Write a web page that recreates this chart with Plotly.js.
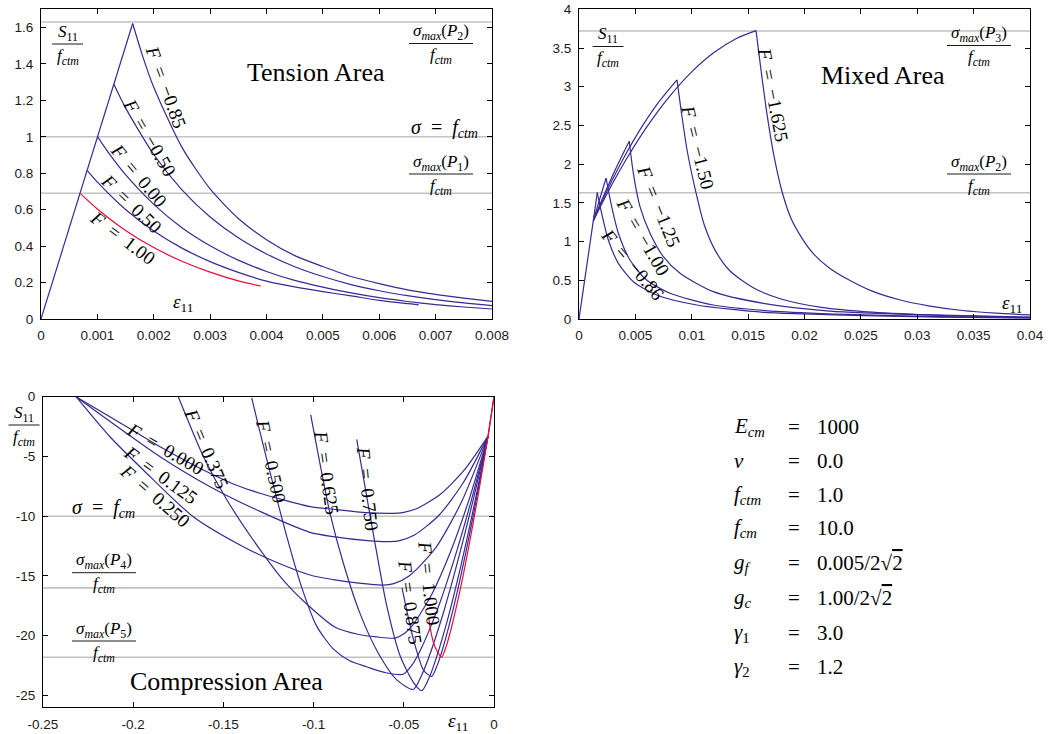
<!DOCTYPE html>
<html><head><meta charset="utf-8">
<script src="https://cdn.plot.ly/plotly-3.0.1.min.js"></script>
<style>html,body{margin:0;padding:0;background:#fff}#chart{width:1050px;height:734px}</style>
</head><body><div id="chart"></div>
<script>
// ================= DATA =================
// ---- Tension area (strain, S11/fctm) ----
const tensionElasticX = [0, 0.001626];
const tensionElasticY = [0, 1.622];
const tensionFm085X = [0.001626, 0.0018, 0.002, 0.0025, 0.003, 0.0035, 0.004, 0.0045, 0.005, 0.0055, 0.006, 0.0065, 0.007, 0.0075, 0.008];
const tensionFm085Y = [1.622, 1.446, 1.272, 0.942, 0.714, 0.552, 0.435, 0.348, 0.288, 0.233, 0.194, 0.160, 0.135, 0.115, 0.097];
const tensionFm050X = [0.001295, 0.0015, 0.002, 0.0025, 0.003, 0.0035, 0.004, 0.0045, 0.005, 0.0055, 0.006, 0.0065, 0.007, 0.0075, 0.008];
const tensionFm050Y = [1.287, 1.159, 0.903, 0.709, 0.560, 0.446, 0.357, 0.287, 0.233, 0.189, 0.155, 0.128, 0.106, 0.088, 0.073];
const tensionF000X = [0.001005, 0.0012, 0.0015, 0.002, 0.0025, 0.003, 0.0035, 0.004, 0.0045, 0.005, 0.0055, 0.006, 0.0065, 0.007, 0.0075, 0.008];
const tensionF000Y = [1.0, 0.912, 0.792, 0.629, 0.501, 0.402, 0.323, 0.261, 0.212, 0.175, 0.143, 0.117, 0.096, 0.079, 0.066, 0.055];
const tensionF050X = [0.000822, 0.001, 0.0015, 0.002, 0.0025, 0.003, 0.0035, 0.004, 0.0045, 0.005, 0.0055, 0.006, 0.0067];
const tensionF050Y = [0.814, 0.751, 0.601, 0.483, 0.389, 0.315, 0.256, 0.208, 0.176, 0.150, 0.127, 0.102, 0.078];
const tensionF100X = [0.000704, 0.001, 0.0015, 0.002, 0.0025, 0.003, 0.0035, 0.0039];
const tensionF100Y = [0.687, 0.604, 0.486, 0.392, 0.317, 0.257, 0.209, 0.181];
const tensionLevels = [1.63, 1.0, 0.69];

// ---- Mixed area ----
const mixedElasticX = [0, 0.00127];
const mixedElasticY = [0, 1.27];
const mixedFm086RiseX = [0.00127, 0.00162];
const mixedFm086RiseY = [1.27, 1.632];
const mixedFm086FallX = [0.00162, 0.00201, 0.0026, 0.00349, 0.00482, 0.00689, 0.01044, 0.01635, 0.0200, 0.02522, 0.032, 0.04];
const mixedFm086FallY = [1.632, 1.365, 1.021, 0.719, 0.482, 0.31, 0.181, 0.086, 0.066, 0.043, 0.025, 0.013];
const mixedFm100RiseX = [0.00127, 0.0018, 0.0024];
const mixedFm100RiseY = [1.27, 1.53, 1.82];
const mixedFm100FallX = [0.0024, 0.0029, 0.00349, 0.00452, 0.006, 0.00807, 0.01191, 0.01783, 0.02522, 0.032, 0.04];
const mixedFm100FallY = [1.82, 1.451, 1.107, 0.762, 0.504, 0.332, 0.181, 0.095, 0.052, 0.030, 0.015];
const mixedFm125RiseX = [0.00127, 0.002, 0.003, 0.0038, 0.00446];
const mixedFm125RiseY = [1.27, 1.528, 1.859, 2.105, 2.296];
const mixedFm125FallX = [0.00446, 0.00482, 0.00541, 0.0063, 0.00748, 0.00896, 0.01191, 0.01635, 0.02226, 0.03113, 0.04];
const mixedFm125FallY = [2.296, 1.882, 1.451, 1.107, 0.805, 0.59, 0.353, 0.202, 0.103, 0.052, 0.025];
const mixedFm150RiseX = [0.00127, 0.0025, 0.004, 0.0055, 0.007, 0.00869];
const mixedFm150RiseY = [1.27, 1.661, 2.089, 2.465, 2.788, 3.088];
const mixedFm150FallX = [0.00869, 0.0091, 0.0096, 0.0103, 0.0111, 0.0121, 0.0134, 0.0155, 0.018, 0.0215, 0.026, 0.032, 0.04];
const mixedFm150FallY = [3.088, 2.65, 2.17, 1.68, 1.22, 0.88, 0.62, 0.40, 0.255, 0.15, 0.088, 0.047, 0.022];
const mixedFm1625RiseX = [0.00127, 0.0025, 0.004, 0.006, 0.008, 0.010, 0.012, 0.014, 0.0157];
const mixedFm1625RiseY = [1.27, 1.622, 2.015, 2.478, 2.870, 3.192, 3.444, 3.626, 3.725];
const mixedFm1625FallX = [0.0157, 0.0162, 0.0167, 0.0173, 0.018, 0.0188, 0.0197, 0.0208, 0.0222, 0.024, 0.026, 0.0285, 0.031, 0.034, 0.037, 0.04];
const mixedFm1625FallY = [3.725, 3.15, 2.62, 2.10, 1.65, 1.30, 1.06, 0.84, 0.66, 0.50, 0.36, 0.245, 0.17, 0.11, 0.075, 0.052];
const mixedLevels = [3.72, 1.63];

// ---- Compression area ----
const compElasticX = [0, -0.0033];
const compElasticY = [0, -3.3];
const compF0000X = [-0.0033, -0.01643, -0.02955, -0.04268, -0.05055, -0.0558, -0.0706, -0.0891, -0.102, -0.1297, -0.1445, -0.1574, -0.1851, -0.2036, -0.2317];
const compF0000Y = [-3.3, -6.13, -8.15, -9.36, -9.70, -9.76, -9.70, -9.42, -9.2, -8.08, -7.3, -6.41, -4.18, -2.51, 0];
const compF0125X = [-0.0033, -0.0169, -0.0305, -0.0441, -0.05226, -0.0577, -0.07, -0.0891, -0.102, -0.1297, -0.1574, -0.1851, -0.2036, -0.2317];
const compF0125Y = [-3.3, -7.16, -9.92, -11.58, -12.04, -12.13, -12.05, -11.71, -11.35, -9.6, -7.53, -5.02, -3.07, 0];
const compF0250X = [-0.0033, -0.01783, -0.03235, -0.04688, -0.05559, -0.0614, -0.075, -0.0891, -0.102, -0.12, -0.139, -0.1667, -0.1944, -0.2129, -0.2317];
const compF0250Y = [-3.3, -8.75, -12.65, -14.98, -15.64, -15.76, -15.6, -15.3, -14.92, -13.9, -12.55, -10.04, -6.13, -3.35, 0];
const compF0375X = [-0.0033, -0.01362, -0.02394, -0.03426, -0.04458, -0.04974, -0.0549, -0.065, -0.075, -0.088, -0.102, -0.116, -0.1297, -0.1482, -0.1611, -0.175];
const compF0375Y = [-3.3, -8.51, -12.92, -16.47, -19.01, -19.82, -20.2, -20.1, -19.9, -19.3, -17.6, -15.5, -12.8, -8.6, -5.0, 0];
const compF0500X = [-0.0033, -0.0127, -0.0221, -0.0315, -0.0409, -0.0456, -0.0503, -0.06, -0.0706, -0.08, -0.0891, -0.0983, -0.1065, -0.1145, -0.1225, -0.13, -0.1343];
const compF0500Y = [-3.3, -8.74, -13.63, -17.86, -21.24, -22.49, -23.23, -23.1, -22.6, -22.1, -21.1, -19.2, -16.0, -11.9, -7.3, -2.8, -0.1];
const compF0625X = [-0.0033, -0.01158, -0.01986, -0.02814, -0.03642, -0.04056, -0.0447, -0.0539, -0.0641, -0.0743, -0.0835, -0.0909, -0.0965, -0.1016];
const compF0625Y = [-3.3, -8.67, -13.64, -18.12, -21.93, -23.46, -24.5, -23.7, -21.47, -18.13, -13.94, -9.76, -5.58, -1.52];
const compF0750X = [-0.0033, -0.01064, -0.01798, -0.02532, -0.03266, -0.03633, -0.040, -0.0447, -0.0521, -0.0595, -0.0664, -0.0715, -0.0761];
const compF0750Y = [-3.3, -8.84, -13.91, -18.42, -22.17, -23.65, -24.6, -23.9, -21.66, -17.47, -11.89, -7.53, -3.57];
const compF0875X = [-0.0033, -0.00954, -0.01578, -0.02202, -0.02826, -0.03138, -0.0345, -0.039, -0.0445, -0.051];
const compF0875Y = [-3.3, -8.43, -13.16, -17.40, -21.00, -22.44, -23.4, -22.9, -20.4, -16.0];
const compF1000X = [0, -0.0033, -0.00844, -0.01358, -0.01872, -0.02386, -0.02643, -0.029, -0.0315, -0.0335, -0.0352, -0.0362];
const compF1000Y = [0, -3.3, -7.93, -12.23, -16.13, -19.48, -20.85, -21.8, -21.3, -20.6, -19.5, -18.5];
const compressionLevels = [-10, -16.0, -21.8];

// ---- Tick values / labels ----
const tensionXTicks = [0, 0.001, 0.002, 0.003, 0.004, 0.005, 0.006, 0.007, 0.008];
const tensionXLabels = ['0', '0.001', '0.002', '0.003', '0.004', '0.005', '0.006', '0.007', '0.008'];
const tensionYTicks = [0, 0.2, 0.4, 0.6, 0.8, 1, 1.2, 1.4, 1.6];
const tensionYLabels = ['0', '0.2', '0.4', '0.6', '0.8', '1', '1.2', '1.4', '1.6'];
const mixedXTicks = [0, 0.005, 0.01, 0.015, 0.02, 0.025, 0.03, 0.035, 0.04];
const mixedXLabels = ['0', '0.005', '0.01', '0.015', '0.02', '0.025', '0.03', '0.035', '0.04'];
const mixedYTicks = [0, 0.5, 1, 1.5, 2, 2.5, 3, 3.5, 4];
const mixedYLabels = ['0', '0.5', '1', '1.5', '2', '2.5', '3', '3.5', '4'];
const compXTicks = [-0.25, -0.2, -0.15, -0.1, -0.05, 0];
const compXLabels = ['-0.25', '-0.2', '-0.15', '-0.1', '-0.05', '0'];
const compYTicks = [0, -5, -10, -15, -20, -25];
const compYLabels = ['0', '-5', '-10', '-15', '-20', '-25'];

// ---- Parameter table ----
const paramSymbols = ['<i>E</i><sub><i>cm</i></sub>', '<i>ν</i>', '<i>f</i><sub><i>ctm</i></sub>', '<i>f</i><sub><i>cm</i></sub>', '<i>g</i><sub><i>f</i></sub>', '<i>g</i><sub><i>c</i></sub>', '<i>γ</i><sub>1</sub>', '<i>γ</i><sub>2</sub>'];
const paramValues = ['1000', '0.0', '1.0', '10.0', '0.005/2√<span style="text-decoration:overline">2</span>', '1.00/2√<span style="text-decoration:overline">2</span>', '3.0', '1.2'];

// ================= DRAWING =================
const W = 1050, H = 734;
const PX = x => x / W;
const PY = y => 1 - y / H;
const BLUE = '#382a94', RED = '#ee0a3a';
const SERIF = 'Liberation Serif, Times New Roman, serif';

function line(x, y, xa, ya, color, spline) {
  return { x: x, y: y, xaxis: xa, yaxis: ya, type: 'scatter', mode: 'lines', hoverinfo: 'skip',
    line: { color: color, width: 1.2, shape: spline ? 'spline' : 'linear', smoothing: 0.7 } };
}

const data = [
  // tension
  line(tensionElasticX, tensionElasticY, 'x', 'y', BLUE, false),
  line(tensionFm085X, tensionFm085Y, 'x', 'y', BLUE, true),
  line(tensionFm050X, tensionFm050Y, 'x', 'y', BLUE, true),
  line(tensionF000X, tensionF000Y, 'x', 'y', BLUE, true),
  line(tensionF050X, tensionF050Y, 'x', 'y', BLUE, true),
  line(tensionF100X, tensionF100Y, 'x', 'y', RED, true),
  // mixed
  line(mixedElasticX, mixedElasticY, 'x2', 'y2', BLUE, false),
  line(mixedFm086RiseX, mixedFm086RiseY, 'x2', 'y2', BLUE, false),
  line(mixedFm086FallX, mixedFm086FallY, 'x2', 'y2', BLUE, true),
  line(mixedFm100RiseX, mixedFm100RiseY, 'x2', 'y2', BLUE, true),
  line(mixedFm100FallX, mixedFm100FallY, 'x2', 'y2', BLUE, true),
  line(mixedFm125RiseX, mixedFm125RiseY, 'x2', 'y2', BLUE, true),
  line(mixedFm125FallX, mixedFm125FallY, 'x2', 'y2', BLUE, true),
  line(mixedFm150RiseX, mixedFm150RiseY, 'x2', 'y2', BLUE, true),
  line(mixedFm150FallX, mixedFm150FallY, 'x2', 'y2', BLUE, true),
  line(mixedFm1625RiseX, mixedFm1625RiseY, 'x2', 'y2', BLUE, true),
  line(mixedFm1625FallX, mixedFm1625FallY, 'x2', 'y2', BLUE, true),
  // compression
  line(compElasticX, compElasticY, 'x3', 'y3', BLUE, false),
  line(compF0000X, compF0000Y, 'x3', 'y3', BLUE, true),
  line(compF0125X, compF0125Y, 'x3', 'y3', BLUE, true),
  line(compF0250X, compF0250Y, 'x3', 'y3', BLUE, true),
  line(compF0375X, compF0375Y, 'x3', 'y3', BLUE, true),
  line(compF0500X, compF0500Y, 'x3', 'y3', BLUE, true),
  line(compF0625X, compF0625Y, 'x3', 'y3', BLUE, true),
  line(compF0750X, compF0750Y, 'x3', 'y3', BLUE, true),
  line(compF0875X, compF0875Y, 'x3', 'y3', BLUE, true),
  line(compF1000X, compF1000Y, 'x3', 'y3', RED, true)
];

function axis(domain, range, tv, tt, anchor) {
  return { domain: domain, range: range, anchor: anchor, tickmode: 'array', tickvals: tv, ticktext: tt,
    ticks: 'inside', ticklen: 5, tickwidth: 1, tickcolor: '#000', showline: true, linecolor: '#000', linewidth: 1,
    mirror: 'ticks', showgrid: false, zeroline: false, ticklabelstandoff: 4, fixedrange: true,
    tickfont: { family: 'Liberation Sans, Arial, sans-serif', size: 13.5, color: '#1a1a1a' } };
}

const topDomain = [PY(319), PY(9.3)];
const layout = {
  width: W, height: H, margin: { l: 0, r: 0, t: 0, b: 0 }, showlegend: false,
  paper_bgcolor: '#fff', plot_bgcolor: '#fff',
  xaxis: axis([PX(41), PX(492)], [0, 0.008], tensionXTicks, tensionXLabels, 'y'),
  yaxis: axis(topDomain, [0, 1.7], tensionYTicks, tensionYLabels, 'x'),
  xaxis2: axis([PX(579), PX(1030)], [0, 0.04], mixedXTicks, mixedXLabels, 'y2'),
  yaxis2: axis(topDomain, [0, 4], mixedYTicks, mixedYLabels, 'x2'),
  xaxis3: axis([PX(43), PX(494)], [-0.25, 0], compXTicks, compXLabels, 'y3'),
  yaxis3: axis([PY(707.4), PY(396.7)], [-26, 0], compYTicks, compYLabels, 'x3'),
  shapes: [],
  annotations: []
};

function hline(xa, ya, x0, x1, v) {
  layout.shapes.push({ type: 'line', xref: xa, yref: ya, x0: x0, x1: x1, y0: v, y1: v, layer: 'below',
    line: { color: '#c2c2c2', width: 1.6 } });
}
tensionLevels.forEach(v => hline('x', 'y', 0, 0.008, v));
mixedLevels.forEach(v => hline('x2', 'y2', 0, 0.04, v));
compressionLevels.forEach(v => hline('x3', 'y3', -0.25, 0, v));

function ann(text, x, y, size, angle, xanchor, yanchor) {
  layout.annotations.push({ text: text, xref: 'paper', yref: 'paper', x: PX(x), y: PY(y), showarrow: false,
    xanchor: xanchor || 'center', yanchor: yanchor || 'middle', textangle: angle || 0, borderpad: 0,
    font: { family: SERIF, size: size, color: '#000' } });
}
function frac(num, den, cx, bar, w, size) {
  ann(num, cx, bar + 0.5, size, 0, 'center', 'bottom');
  ann(den, cx, bar + 0.5, size, 0, 'center', 'top');
  layout.shapes.push({ type: 'line', xref: 'paper', yref: 'paper', x0: PX(cx - w / 2), x1: PX(cx + w / 2),
    y0: PY(bar), y1: PY(bar), line: { color: '#000', width: 0.9 } });
}
const S11 = '<i>S</i><sub>11</sub>';
const FCTM = '<i>f</i><sub><i>ctm</i></sub>';
const SMAX = n => '<i>σ</i><sub><i>max</i></sub>(<i>P</i><sub>' + n + '</sub>)';
const EPS = '<i>ε</i><sub>11</sub>';
const SP = '\u2002';
const FL = v => '<i>F</i>' + SP + '=' + SP + v;

// tension texts
frac(S11, FCTM, 67.5, 44, 31, 17);
frac(SMAX(2), FCTM, 441, 43.5, 64, 17);
frac(SMAX(1), FCTM, 441, 174, 64, 17);
ann('<i>σ</i>' + SP + '=' + SP + '<i>f</i><sub><i>ctm</i></sub>', 444, 128, 20);
ann('Tension Area', 316, 73, 26);
ann(EPS, 183, 303, 19);
ann(FL('−0.85'), 166.5, 87, 19, 70);
ann(FL('−0.50'), 150, 137, 19, 60);
ann(FL('0.00'), 139, 175.5, 19, 50);
ann(FL('0.50'), 131.5, 203, 19, 44);
ann(FL('1.00'), 122.5, 237.5, 19, 37);

// mixed texts
frac(S11, FCTM, 608, 46.5, 31, 17);
frac(SMAX(3), FCTM, 979, 45.5, 64, 17);
frac(SMAX(2), FCTM, 979, 174, 64, 17);
ann('Mixed Area', 882.5, 75, 26);
ann(EPS, 1012, 304, 19);
ann(FL('−1.625'), 773.5, 94, 19, 79);
ann(FL('−1.50'), 697.5, 146.5, 19, 76);
ann(FL('−1.25'), 658.5, 205.5, 19, 68);
ann(FL('−1.00'), 643, 236.5, 19, 60);
ann(FL('−0.86'), 633, 264, 19, 50);

// compression texts
frac(S11, FCTM, 24, 425, 31, 17);
frac(SMAX(4), FCTM, 104, 572.7, 64, 17);
frac(SMAX(5), FCTM, 104, 641, 64, 17);
ann('<i>σ</i>' + SP + '=' + SP + '<i>f</i><sub><i>cm</i></sub>', 103, 508, 20);
ann('Compression Area', 226, 681, 26);
ann(EPS, 458, 722, 19);
ann(FL('0.000'), 165, 448.5, 19, 30);
ann(FL('0.125'), 160, 475, 19, 36);
ann(FL('0.250'), 155, 495, 19, 41);
ann(FL('0.375'), 206.5, 448.5, 19, 67);
ann(FL('0.500'), 271.5, 461, 19, 78);
ann(FL('0.625'), 326, 472, 19, 82);
ann(FL('0.750'), 367.5, 488.5, 19, 84);
ann(FL('0.875'), 410.5, 602, 19, 82.5);
ann(FL('1.000'), 429, 582.5, 19, 84);

// parameter table
const rowY = [427, 461, 494.5, 528, 563, 598, 633, 667];
paramSymbols.forEach((s, i) => {
  ann(s, 733, rowY[i], 21, 0, 'left');
  ann('=', 794, rowY[i], 21, 0, 'center');
  ann(paramValues[i], 816, rowY[i], 21, 0, 'left');
});

Plotly.newPlot('chart', data, layout, { staticPlot: true, displayModeBar: false });
</script>
</body></html>
